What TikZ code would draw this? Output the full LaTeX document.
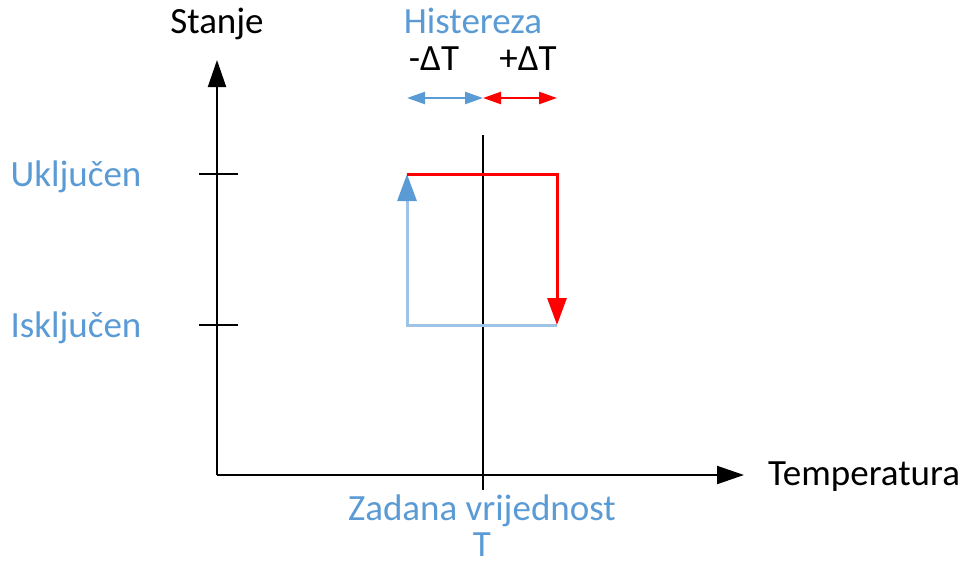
\documentclass[tikz,border=0pt]{standalone}
\usepackage{fontspec}
\setmainfont{Carlito}
\usetikzlibrary{arrows.meta}
\definecolor{txtblue}{HTML}{5B9BD5}
\definecolor{loopblue}{HTML}{9DC3E6}
\definecolor{hotred}{HTML}{FF0000}
\begin{document}
\begin{tikzpicture}[x=1pt,y=-1pt,
  lbl/.style={font=\fontsize{37}{44}\selectfont, inner sep=0pt, anchor=base},
  axis/.style={line width=2pt, -{Triangle[length=27pt,width=18pt]}},
  tickline/.style={line width=2pt},
  looparrow/.style={line width=3pt},
  hyst/.style={line width=2.5pt}]
\useasboundingbox (0,0) rectangle (971,565);
% axes
\coordinate (O) at (217,475);
\coordinate (ytop) at (217,60);
\coordinate (xend) at (744,475);
\draw[axis] (O) -- (ytop);
\draw[axis] (O) -- (xend);
% ticks
\coordinate (t1a) at (199,174); \coordinate (t1b) at (238,174);
\coordinate (t2a) at (199,325); \coordinate (t2b) at (238,325);
\draw[tickline] (t1a) -- (t1b);
\draw[tickline] (t2a) -- (t2b);
% set value line
\coordinate (sv1) at (483,135);
\coordinate (sv2) at (483,490);
\draw[line width=2pt] (sv1) -- (sv2);
% loop
\coordinate (bl) at (407,325);
\coordinate (tl) at (407,174);
\coordinate (tr) at (557,174);
\coordinate (br) at (557,325);
\draw[looparrow, draw=loopblue, -{Triangle[length=27pt,width=19pt,color=txtblue,fill=txtblue]}] (br) -- (bl) -- (tl);
\draw[looparrow, draw=hotred, -{Triangle[length=27pt,width=19pt,color=hotred,fill=hotred]}] (tl) -- (tr) -- (br);
% hysteresis arrows
\coordinate (h1) at (407,98);
\coordinate (h2) at (483,98);
\coordinate (h3) at (557,98);
\draw[hyst, draw=txtblue, {Triangle[length=18pt,width=12pt]}-{Triangle[length=18pt,width=12pt]}] (h1) -- (h2);
\draw[hyst, draw=hotred, {Triangle[length=18pt,width=12pt]}-{Triangle[length=18pt,width=12pt]}] (h2) -- (h3);
% labels
\node[lbl] (stanje) at (217,33) {Stanje};
\node[lbl, anchor=base west] (temp) at (768,485) {Temperatura};
\node[lbl, text=txtblue] (ukl) at (76,186) {Uključen};
\node[lbl, text=txtblue] (iskl) at (76,337) {Isključen};
\node[lbl, text=txtblue] (hist) at (473,33) {Histereza};
\node[lbl] (minus) at (434,70) {-ΔT};
\node[lbl] (plus) at (528,70) {+ΔT};
\node[lbl, text=txtblue, align=center, font=\fontsize{37}{36}\selectfont] (zad) at (482,556) {Zadana vrijednost\\T};
\end{tikzpicture}
\end{document}
